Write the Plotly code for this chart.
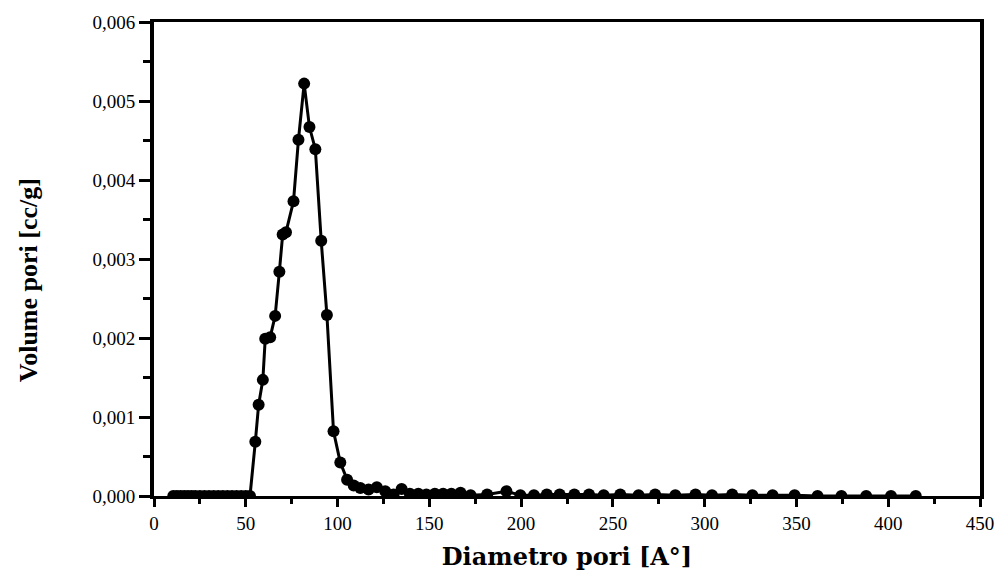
import plotly.graph_objects as go

diametro = [10.5, 12.5, 14.5, 16.5, 18.5, 20.5, 22.5, 25, 27.5, 30, 32.5, 35, 37.5, 40, 42.5,
            45, 47.5, 50, 52.3,
            55.2, 57.0, 59.3, 60.6, 63.3, 66.0, 68.3, 70.1, 71.9, 76.0, 78.7, 81.8, 84.7, 87.9,
            91.1, 94.2, 97.8, 101.5, 105.2, 108.8, 112.4, 116.9, 121.4, 126.0, 130.5, 134.9,
            139.4, 144, 148.4, 153, 157.5, 162, 167, 172.5, 181.5, 192, 199.6, 207, 214, 221,
            229, 237, 245, 254, 264, 273, 284, 295, 304, 315, 326, 337, 349, 361.5, 374.5, 388,
            401.5, 415]
volume = [0.0, 0.0, 0.0, 0.0, 0.0, 0.0, 0.0, 0.0, 0.0, 0.0, 0.0, 0.0, 0.0, 0.0, 0.0,
          0.0, 0.0, 0.0, 0.0,
          0.000686, 0.001156, 0.00147, 0.00199, 0.00201, 0.00228, 0.00284, 0.00331, 0.00334,
          0.00373, 0.00451, 0.00522, 0.00467, 0.00439, 0.00323, 0.00229, 0.00082, 0.000424,
          0.000207, 0.000132, 0.0001, 0.000082, 0.00011, 0.00006, 0.00002, 0.00009,
          0.00003, 0.00003, 0.00002, 0.00003, 0.00003, 0.00003, 0.00004, 0.00001, 0.00002,
          0.00006, 0.00001, 0.00001, 0.00002, 0.00002, 0.00002, 0.00002, 0.00001, 0.00002,
          0.00001, 0.00002, 0.00001, 0.00002, 0.00001, 0.00002, 0.00001, 0.00001, 0.00001,
          0.0, 0.0, 0.0, 0.0, 0.0]

x_ticks = [0, 50, 100, 150, 200, 250, 300, 350, 400, 450]
y_ticks = [0.0, 0.001, 0.002, 0.003, 0.004, 0.005, 0.006]

fig = go.Figure()
fig.add_trace(go.Scatter(
    x=diametro, y=volume, mode="lines+markers",
    line=dict(color="black", width=3),
    marker=dict(color="black", size=12, line=dict(width=0)),
    showlegend=False,
))

font = "Liberation Serif, Times New Roman, serif"
fig.update_layout(
    width=1006, height=579,
    margin=dict(l=154, r=20, t=18, b=82),
    paper_bgcolor="white", plot_bgcolor="white",
    separators=",.",
    font=dict(family=font, color="black", size=19),
)
fig.update_xaxes(
    range=[0, 450], tickvals=x_ticks, ticks="outside", ticklen=8, tickwidth=3,
    tickcolor="black", showline=True, linecolor="black", linewidth=3, mirror=True,
    showgrid=False, zeroline=False,
    minor=dict(dtick=25, ticks="outside", ticklen=5, tickwidth=3, tickcolor="black"),
    tickfont=dict(family=font, size=19),
    title=dict(text="<b>Diametro pori [A°]</b>",
               font=dict(family="DejaVu Serif, serif", size=24), standoff=16),
)
fig.update_yaxes(
    range=[0, 0.006], tickvals=y_ticks, tickformat=".3f", ticks="outside", ticklen=11,
    tickwidth=3, tickcolor="black", showline=True, linecolor="black", linewidth=4,
    mirror=True, showgrid=False, zeroline=False,
    minor=dict(dtick=0.0005, ticks="outside", ticklen=7, tickwidth=3, tickcolor="black"),
    tickfont=dict(family=font, size=19),
)
fig.add_annotation(
    text="<b>Volume pori [cc/g]</b>", textangle=-90,
    xref="paper", yref="paper", x=-0.1527, y=0.455,
    xanchor="center", yanchor="middle", showarrow=False,
    font=dict(family=font, size=26, color="black"),
)
fig.write_html("out.html")
